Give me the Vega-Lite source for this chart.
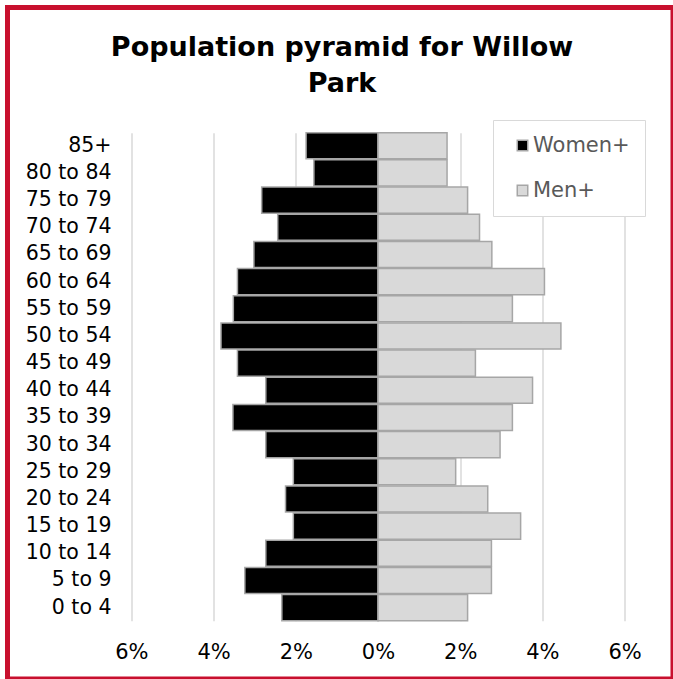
{
  "$schema": "https://vega.github.io/schema/vega-lite/v6.json",
  "width": 665.5,
  "height": 671.5,
  "autosize": {"type": "none"},
  "padding": {"left": 7.5, "top": 7.5, "right": 0, "bottom": 0},
  "background": "#ffffff",
  "title": {
    "text": ["Population pyramid for Willow", "Park"],
    "anchor": "middle",
    "frame": "group",
    "baseline": "top",
    "offset": -90,
    "dx": 1.75,
    "fontSize": 27,
    "lineHeight": 36,
    "font": "DejaVu Sans",
    "fontWeight": "bold",
    "color": "#000000"
  },
  "data": {
    "values": [
      {"age": "85+", "sex": "Women+", "pct": -1.75},
      {"age": "85+", "sex": "Men+", "pct": 1.68},
      {"age": "80 to 84", "sex": "Women+", "pct": -1.56},
      {"age": "80 to 84", "sex": "Men+", "pct": 1.68},
      {"age": "75 to 79", "sex": "Women+", "pct": -2.83},
      {"age": "75 to 79", "sex": "Men+", "pct": 2.18},
      {"age": "70 to 74", "sex": "Women+", "pct": -2.44},
      {"age": "70 to 74", "sex": "Men+", "pct": 2.47},
      {"age": "65 to 69", "sex": "Women+", "pct": -3.02},
      {"age": "65 to 69", "sex": "Men+", "pct": 2.77},
      {"age": "60 to 64", "sex": "Women+", "pct": -3.42},
      {"age": "60 to 64", "sex": "Men+", "pct": 4.05},
      {"age": "55 to 59", "sex": "Women+", "pct": -3.52},
      {"age": "55 to 59", "sex": "Men+", "pct": 3.27},
      {"age": "50 to 54", "sex": "Women+", "pct": -3.82},
      {"age": "50 to 54", "sex": "Men+", "pct": 4.45},
      {"age": "45 to 49", "sex": "Women+", "pct": -3.42},
      {"age": "45 to 49", "sex": "Men+", "pct": 2.37},
      {"age": "40 to 44", "sex": "Women+", "pct": -2.73},
      {"age": "40 to 44", "sex": "Men+", "pct": 3.76},
      {"age": "35 to 39", "sex": "Women+", "pct": -3.53},
      {"age": "35 to 39", "sex": "Men+", "pct": 3.27},
      {"age": "30 to 34", "sex": "Women+", "pct": -2.73},
      {"age": "30 to 34", "sex": "Men+", "pct": 2.97},
      {"age": "25 to 29", "sex": "Women+", "pct": -2.06},
      {"age": "25 to 29", "sex": "Men+", "pct": 1.89},
      {"age": "20 to 24", "sex": "Women+", "pct": -2.25},
      {"age": "20 to 24", "sex": "Men+", "pct": 2.67},
      {"age": "15 to 19", "sex": "Women+", "pct": -2.06},
      {"age": "15 to 19", "sex": "Men+", "pct": 3.47},
      {"age": "10 to 14", "sex": "Women+", "pct": -2.73},
      {"age": "10 to 14", "sex": "Men+", "pct": 2.76},
      {"age": "5 to 9", "sex": "Women+", "pct": -3.24},
      {"age": "5 to 9", "sex": "Men+", "pct": 2.76},
      {"age": "0 to 4", "sex": "Women+", "pct": -2.34},
      {"age": "0 to 4", "sex": "Men+", "pct": 2.18}
    ]
  },
  "mark": {"type": "bar", "stroke": "#a6a6a6", "strokeWidth": 1.5},
  "encoding": {
    "y": {
      "field": "age",
      "type": "nominal",
      "sort": ["85+", "80 to 84", "75 to 79", "70 to 74", "65 to 69", "60 to 64", "55 to 59", "50 to 54", "45 to 49", "40 to 44", "35 to 39", "30 to 34", "25 to 29", "20 to 24", "15 to 19", "10 to 14", "5 to 9", "0 to 4"],
      "scale": {"range": [125.2, 613.2], "paddingInner": 0.04, "paddingOuter": 0},
      "axis": {
        "title": null,
        "domain": false,
        "ticks": false,
        "grid": false,
        "offset": -112,
        "labelPadding": 8.5,
        "labelFontSize": 20.5,
        "labelFont": "DejaVu Sans",
        "labelColor": "#000000"
      }
    },
    "x": {
      "field": "pct",
      "type": "quantitative",
      "stack": null,
      "scale": {"domain": [-6, 6], "range": [123.9, 617.1], "nice": false},
      "axis": {
        "orient": "top",
        "title": null,
        "values": [-6, -4, -2, 0, 2, 4, 6],
        "labelExpr": "abs(datum.value) + '%'",
        "domain": false,
        "ticks": false,
        "grid": true,
        "gridColor": "#d9d9d9",
        "gridWidth": 1.5,
        "labelFlush": false,
        "offset": -651,
        "labelPadding": 0,
        "labelBaseline": "alphabetic",
        "labelFontSize": 21,
        "labelFont": "DejaVu Sans",
        "labelColor": "#000000"
      }
    },
    "color": {
      "field": "sex",
      "type": "nominal",
      "scale": {"domain": ["Women+", "Men+"], "range": ["#000000", "#d9d9d9"]},
      "legend": {
        "title": null,
        "orient": "none",
        "legendX": 485.5,
        "legendY": 112.5,
        "padding": 15,
        "symbolType": "square",
        "symbolSize": 110,
        "symbolStrokeColor": "#a6a6a6",
        "symbolStrokeWidth": 1.5,
        "symbolOffset": 4,
        "labelOffset": 0,
        "rowPadding": 23,
        "labelFontSize": 21,
        "labelFont": "DejaVu Sans",
        "labelColor": "#595959",
        "strokeColor": "#d9d9d9",
        "fillColor": "#ffffff"
      }
    }
  },
  "config": {
    "view": {"stroke": "#C8102E", "strokeWidth": 5}
  }
}
